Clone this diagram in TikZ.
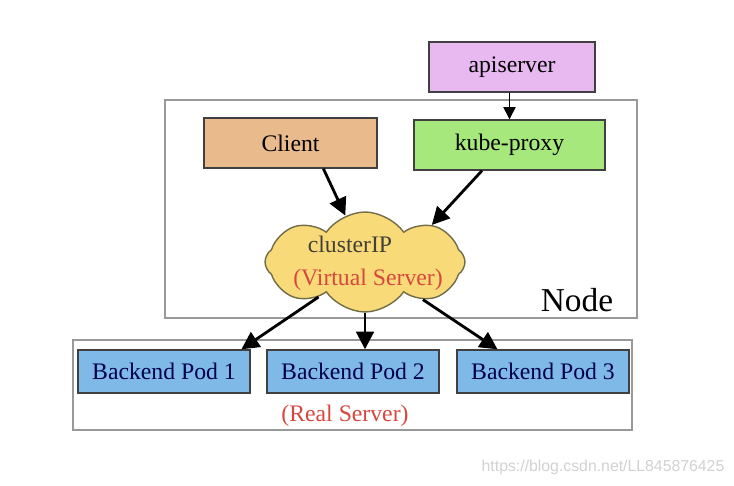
\documentclass[tikz,border=0pt]{standalone}
\usepackage{fontspec}
\setmainfont{Liberation Serif}
\newfontfamily\wmfont{Liberation Sans}
\usepackage{tikz}
\usetikzlibrary{shapes.symbols}
\usetikzlibrary{arrows.meta}
\definecolor{apipurple}{RGB}{232,184,240}
\definecolor{clienttan}{RGB}{233,186,140}
\definecolor{proxygreen}{RGB}{166,232,124}
\definecolor{cloudyellow}{RGB}{248,218,120}
\definecolor{podblue}{RGB}{126,185,232}
\definecolor{labelred}{RGB}{214,72,62}

\begin{document}
\begin{tikzpicture}[x=0.02cm, y=-0.02cm,
  box/.style={draw=black!75, line width=0.8pt, inner sep=0pt, minimum height=1cm,
    font=\fontsize{13.5}{16}\selectfont},
  pod/.style={box, fill=podblue, minimum width=3.44cm, minimum height=0.86cm, text=black!70!blue},
  frame/.style={draw=black!40, line width=0.8pt},
  arr/.style={-{Triangle[length=10pt,width=10pt]}, line width=1.6pt},
  thinarr/.style={-{Triangle[length=7pt,width=7pt]}, line width=0.8pt},
]
  \useasboundingbox (0,0) rectangle (734,486);

  % frames
  \draw[frame] (165,100) rectangle (637,318);
  \draw[frame] (73,340) rectangle (632,430);

  % boxes
  \node[box, fill=apipurple, minimum width=3.32cm] (api) at (512,67) {apiserver};
  \node[box, fill=clienttan, minimum width=3.46cm] (client) at (290.5,143) {Client};
  \node[box, fill=proxygreen, minimum width=3.82cm] (proxy) at (509.5,145) {kube-proxy};

  \node[cloud, cloud puffs=8, cloud puff arc=110, aspect=2, draw=black!55!yellow!80!black, fill=cloudyellow, line width=0.8pt,
    minimum width=4cm, minimum height=2cm, inner sep=0pt] (cloud) at (365,262) {};
  \node[font=\fontsize{13.5}{16}\selectfont, text=black!75!yellow!60!black] at (350,244) {clusterIP};
  \node[font=\fontsize{13.5}{16}\selectfont, text=labelred] at (368,280) {(Virtual Server)};
  \node[font=\fontsize{19}{22}\selectfont] at (577,300) {Node};

  \node[pod] (pod1) at (164,371.5) {Backend Pod 1};
  \node[pod] (pod2) at (353,371.5) {Backend Pod 2};
  \node[pod] (pod3) at (543,371.5) {Backend Pod 3};
  \node[font=\fontsize{13.5}{16}\selectfont, text=labelred] at (345,416) {(Real Server)};

  % arrows
  \draw[thinarr] (api.south -| proxy.north) -- (proxy.north);
  \draw[arr] (client.-38) -- (cloud.113);
  \draw[arr] (proxy.-137) -- (cloud.29);
  \draw[arr] (cloud.-143) -- (pod1.16);
  \draw[arr] (cloud.south) -- (cloud.south |- pod2.north);
  \draw[arr] (cloud.-33) -- (pod3.154);

  \node[font=\wmfont\fontsize{9}{10}\selectfont, text=black!18] at (603,467) {https://blog.csdn.net/LL845876425};
\end{tikzpicture}
\end{document}
